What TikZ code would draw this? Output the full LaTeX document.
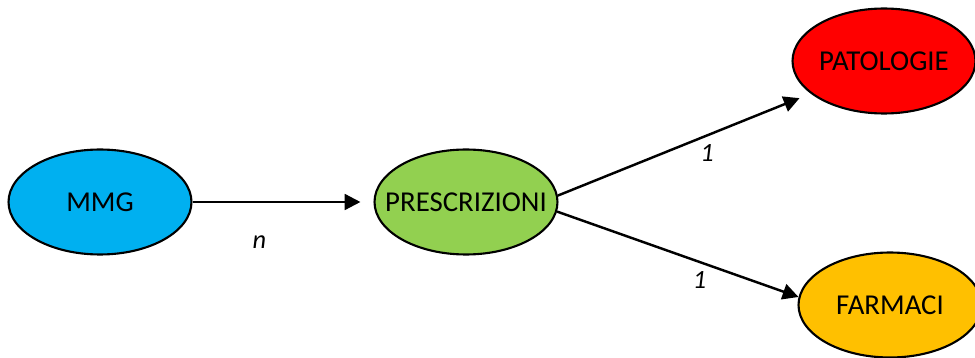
\documentclass[tikz,border=0pt]{standalone}
\usepackage{fontspec}
\setmainfont{Carlito}
\usetikzlibrary{shapes.geometric,arrows.meta}
\definecolor{mmgblue}{HTML}{00B0F0}
\definecolor{prescgreen}{HTML}{92D050}
\definecolor{patred}{HTML}{FF0000}
\definecolor{farmorange}{HTML}{FFC000}
\begin{document}
\begin{tikzpicture}[x=0.02cm,y=-0.02cm,
  ent/.style={ellipse,draw,line width=1.2pt,inner sep=0pt,minimum width=3.66cm,minimum height=2.1cm,font=\fontsize{16.4}{19}\selectfont},
  rel/.style={-{Triangle[length=9pt,width=9pt]},line width=1.4pt},
  card/.style={font=\fontsize{15}{17}\selectfont\itshape}]
  \useasboundingbox (0,0) rectangle (975,358);
  \node[ent,fill=mmgblue] (mmg) at (100,202) {\makebox[0pt]{MMG}};
  \node[ent,fill=prescgreen] (presc) at (466,202) {\makebox[0pt]{PRESCRIZIONI}};
  \node[ent,fill=patred] (pat) at (884,61) {\makebox[0pt]{PATOLOGIE}};
  \node[ent,fill=farmorange] (farm) at (890,305) {\makebox[0pt]{FARMACI}};
  \draw[rel,shorten >=0.26cm] (mmg.east) -- (presc.west) node[card,pos=0.37,yshift=-0.8cm] {n};
  \draw[rel,shorten >=0.24cm] (presc.4) -- (pat.204) node[card,pos=0.59,yshift=-0.36cm] {1};
  \draw[rel] (presc.-6) -- (farm.175) node[card,pos=0.59,yshift=-0.37cm] {1};
\end{tikzpicture}
\end{document}
